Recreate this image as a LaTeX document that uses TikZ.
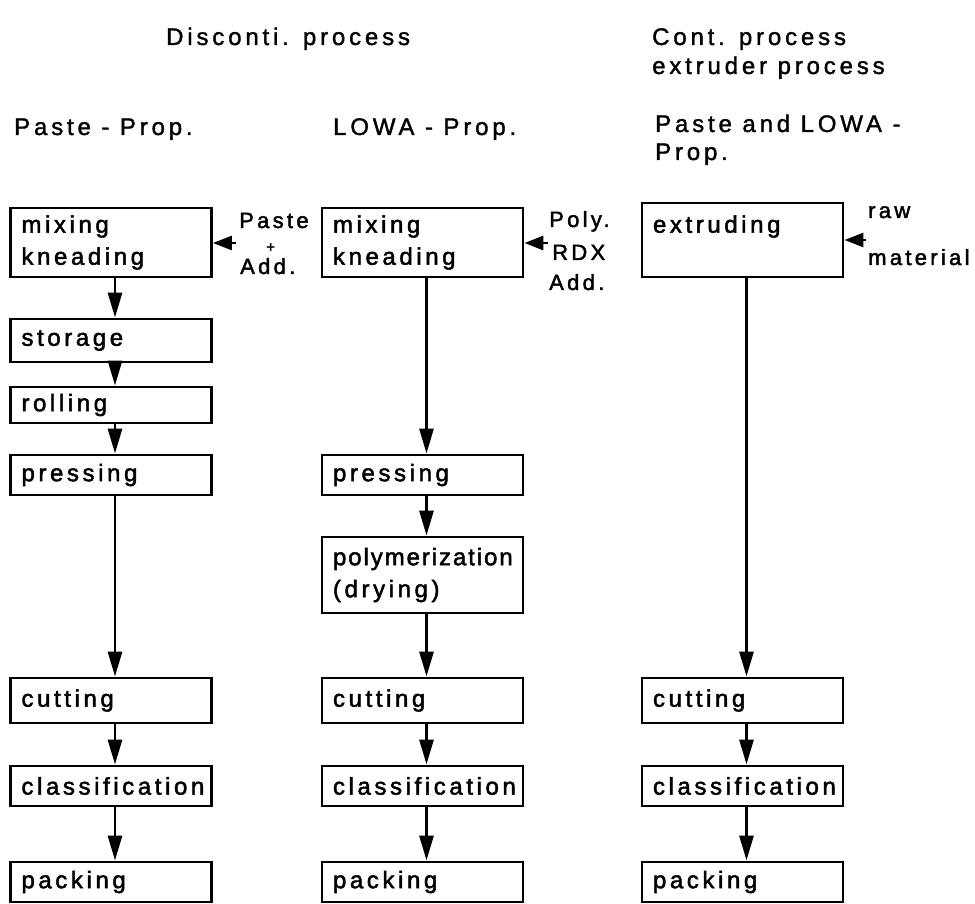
\documentclass[tikz,border=0pt]{standalone}
\usepackage{fontspec}
\newfontfamily\lab{Liberation Sans}[LetterSpace=15,FakeBold=2]
\newfontfamily\labt{Liberation Sans}[LetterSpace=8,FakeBold=2]
\newfontfamily\labh{Liberation Sans}[LetterSpace=16,FakeBold=1.5]
\usetikzlibrary{arrows.meta}
\begin{document}
\begin{tikzpicture}[x=1pt,y=-1pt,
  box/.style={draw, line width=2.9pt, minimum width=201pt, text width=179pt,
    inner xsep=11pt, inner ysep=0pt, align=left,
    font=\lab\fontsize{24}{32}\selectfont},
  flow/.style={line width=2.9pt, -{Triangle[length=25pt,width=14pt]}},
  feed/.style={line width=2.9pt, -{Triangle[length=19pt,width=14pt]}},
  head/.style={anchor=base west, inner sep=0pt, font=\labh\fontsize{24}{30}\selectfont},
  side/.style={anchor=base west, inner sep=0pt, font=\lab\fontsize{22}{26}\selectfont}]
\useasboundingbox (0,0) rectangle (975,904);
% headings
\node[head] (h1) at (166,45) {Disconti. process};
\node[head] (h2) at (652,45) {Cont. process};
\node[head] (h3) at (652,74) {extruder process};
\node[head] (h4) at (14,135) {Paste - Prop.};
\node[head] (h5) at (333,135) {LOWA - Prop.};
\node[head] (h6) at (655,132) {Paste and LOWA -};
\node[head] (h7) at (655,160) {Prop.};
% column 1
\node[box, minimum height=69pt] (m1) at (111,242.5) {mixing\\kneading};
\node[box, minimum height=43pt] (s1) at (111,340.5) {storage};
\node[box, minimum height=36pt] (r1) at (111,405) {rolling};
\node[box, minimum height=40pt] (p1) at (111,475) {pressing};
\node[box, minimum height=45pt] (c1) at (111,700.5) {cutting};
\node[box, minimum height=40pt] (k1) at (111,786) {classification};
\node[box, minimum height=40pt] (q1) at (111,882) {packing};
% column 2
\node[box, minimum height=69pt] (m2) at (422.5,242.5) {mixing\\kneading};
\node[box, minimum height=40pt] (p2) at (422.5,475) {pressing};
\node[box, minimum height=76pt] (y2) at (422.5,575) {{\labt polymerization}\\(drying)};
\node[box, minimum height=45pt] (c2) at (422.5,700.5) {cutting};
\node[box, minimum height=40pt] (k2) at (422.5,786) {classification};
\node[box, minimum height=40pt] (q2) at (422.5,882) {packing};
% column 3
\node[box, minimum height=74pt] (e3) at (742.5,240) {extruding\\\mbox{}};
\node[box, minimum height=45pt] (c3) at (742.5,700.5) {cutting};
\node[box, minimum height=40pt] (k3) at (742.5,786) {classification};
\node[box, minimum height=40pt] (q3) at (742.5,882) {packing};
% flow arrows
\foreach \a/\b in {m1/s1,s1/r1,r1/p1,p1/c1,c1/k1,k1/q1,m2/p2,p2/y2,y2/c2,c2/k2,k2/q2,e3/c3,c3/k3,k3/q3}
  \draw[flow] ([xshift=4pt]\a.south) -- ([xshift=4pt]\b.north);
% feeds
\coordinate (f1) at (236,243);
\coordinate (f2) at (548,243);
\coordinate (f3) at (866,240);
\draw[feed] (f1) -- (m1.east |- f1);
\draw[feed] (f2) -- (m2.east |- f2);
\draw[feed] (f3) -- (e3.east |- f3);
\node[side] (l1) at (239,228) {Paste};
\node[side, font=\lab\fontsize{15}{15}\selectfont] (l2) at (266,252) {+};
\node[side] (l3) at (240,274) {Add.};
\node[side] (l4) at (549,227) {Poly.};
\node[side] (l5) at (552,260) {RDX};
\node[side] (l6) at (549,290) {Add.};
\node[side] (l7) at (868,218) {raw};
\node[side] (l8) at (868,265) {material};
\end{tikzpicture}
\end{document}
